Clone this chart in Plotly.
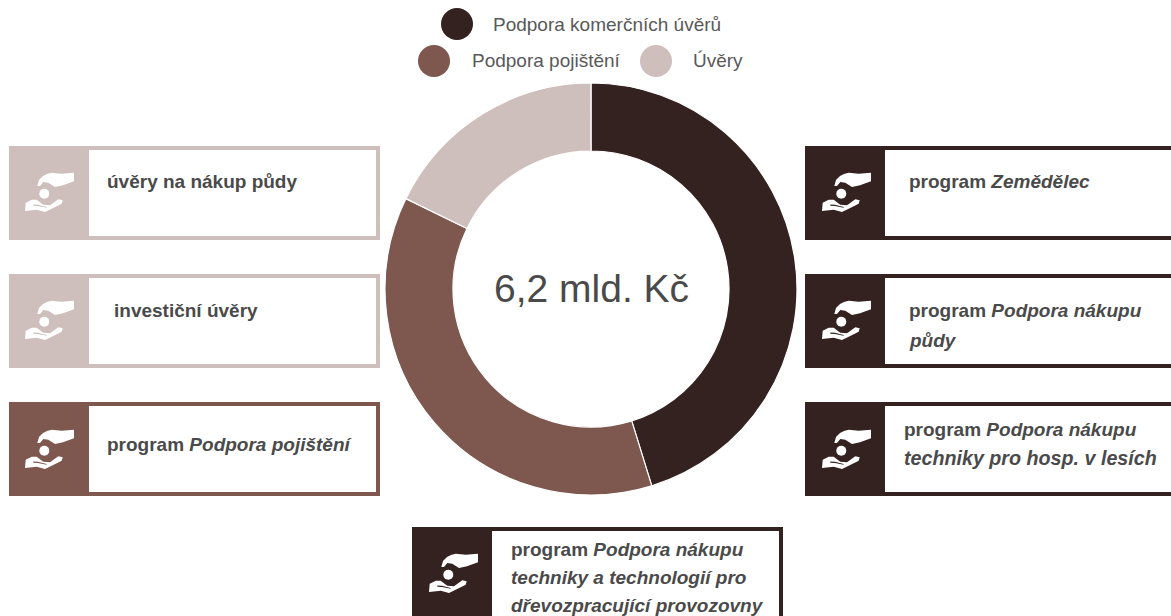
import plotly.graph_objects as go

W, H = 1171, 616

categories = ["Podpora komerčních úvěrů", "Podpora pojištění", "Úvěry"]
values = [2.80, 2.29, 1.10]
colors = ["#33221F", "#7E574F", "#CFBFBC"]
center_label = "6,2 mld. Kč"

box_lines = [
    ["<b>úvěry na nákup půdy</b>"],
    ["<b>investiční úvěry</b>"],
    ["<b>program <i>Podpora pojištění</i></b>"],
    ["<b>program <i>Zemědělec</i></b>"],
    ["<b>program <i>Podpora nákupu</i></b>", "<b><i>půdy</i></b>"],
    ["<b>program <i>Podpora nákupu</i></b>", "<b><i>techniky pro hosp. v lesích</i></b>"],
    ["<b>program <i>Podpora nákupu</i></b>", "<b><i>techniky a technologií pro</i></b>", "<b><i>dřevozpracující provozovny</i></b>"],
]


def px(x):
    return x / W


def py(y):
    return 1 - y / H


shapes = []
annotations = []


def rect(x0, y0, x1, y1, fill):
    shapes.append(dict(type="rect", xref="paper", yref="paper", x0=px(x0), x1=px(x1),
                       y0=py(y0), y1=py(y1), fillcolor=fill, line_width=0, layer="below"))


def circle(cx, cy, r, fill, layer="below"):
    shapes.append(dict(type="circle", xref="paper", yref="paper", x0=px(cx - r), x1=px(cx + r),
                       y0=py(cy - r), y1=py(cy + r), fillcolor=fill, line_width=0, layer=layer))


def poly(points, ox, oy, fill):
    d = "M" + " L".join(f"{px(ox + a):.5f},{py(oy + b):.5f}" for a, b in points) + " Z"
    shapes.append(dict(type="path", xref="paper", yref="paper", path=d, fillcolor=fill, line_width=0))


upper_hand = [(12.3, 14), (14, 8), (18, 4), (22, 2), (26.7, 0.7), (36.7, 1.7), (49, 0.7),
              (49, 9.3), (38, 13.3), (30, 15), (23.3, 10.7), (18.3, 10), (15, 14)]
lower_hand = [(0.7, 30.7), (6.7, 27.7), (11.7, 27.7), (18.3, 32.7), (25, 33.3), (33.3, 27.3), (37.7, 28.3),
              (36.7, 31.7), (26.7, 36.7), (20, 40), (11.7, 37.7), (0, 39)]
slit = [(8.3, 32.5), (13, 32.8), (21.7, 35), (21.7, 35.8), (13, 34), (8.3, 33.7)]


def icon(ox, oy, bg):
    poly(upper_hand, ox, oy, "white")
    poly(lower_hand, ox, oy, "white")
    poly(slit, ox, oy, bg)
    shapes.append(dict(type="circle", xref="paper", yref="paper", x0=px(ox + 14.3), x1=px(ox + 24.3),
                       y0=py(oy + 16.7), y1=py(oy + 26.7), fillcolor="white", line_width=0))


def box(x0, y0, x1, y1, color, right=True, bottom=True):
    b = 4
    rect(x0, y0, x1, y0 + b, color)
    if bottom:
        rect(x0, y1 - b, x1, y1, color)
    if right:
        rect(x1 - b, y0, x1, y1, color)
    rect(x0, y0, x0 + 80, y1, color)


def text(x, y, s, size=19, color="#4A4A4A", anchor="left"):
    annotations.append(dict(xref="paper", yref="paper", x=px(x), y=py(y), text=s, showarrow=False,
                            xanchor=anchor, yanchor="middle", borderpad=0,
                            font=dict(family="Liberation Sans", size=size, color=color)))


# left boxes
box(9, 146, 380, 240, colors[2])
box(9, 274, 380, 368, colors[2])
box(9, 402, 380, 496, colors[1])
# right boxes
box(805, 146, 1175, 240, colors[0], right=False)
box(805, 274, 1175, 368, colors[0], right=False)
box(805, 402, 1175, 496, colors[0], right=False)
# bottom box
box(412, 527, 783, 620, colors[0], bottom=False)

icon(25, 172, colors[2])
icon(25, 300, colors[2])
icon(25, 429, colors[1])
icon(822, 172, colors[0])
icon(822, 300, colors[0])
icon(822, 429, colors[0])
icon(429, 553, colors[0])

line_pos = [
    [(106, 182)], [(113, 310)], [(106, 444)], [(908, 182)],
    [(908, 310), (908, 340)], [(903, 429), (903, 458)], [(510, 549), (510, 577), (510, 605)],
]
line_size = {"<b><i>techniky pro hosp. v lesích</i></b>": 19.7}
for group, pos in zip(box_lines, line_pos):
    for s, (x, y) in zip(group, pos):
        text(x, y, s, size=line_size.get(s, 19))

# legend
circle(457, 24, 16, colors[0])
circle(434, 61, 16, colors[1])
circle(656, 61, 16, colors[2])
text(492, 24, categories[0], color="#595959")
text(471, 61, categories[1], color="#595959")
text(692, 61, categories[2], color="#595959")

text(591, 289, center_label, size=39, anchor="center")

fig = go.Figure(go.Pie(
    labels=categories, values=values, sort=False, direction="clockwise", rotation=0, hole=0.67,
    marker=dict(colors=colors, line=dict(color="white", width=1.2)),
    textinfo="none", showlegend=False,
    domain=dict(x=[px(385), px(797)], y=[py(495), py(83)]),
))
fig.update_layout(width=W, height=H, margin=dict(l=0, r=0, t=0, b=0), paper_bgcolor="white",
                  plot_bgcolor="white", shapes=shapes, annotations=annotations)
fig.write_html("out.html", post_script="document.body.style.margin='0';",
               config=dict(displayModeBar=False))
